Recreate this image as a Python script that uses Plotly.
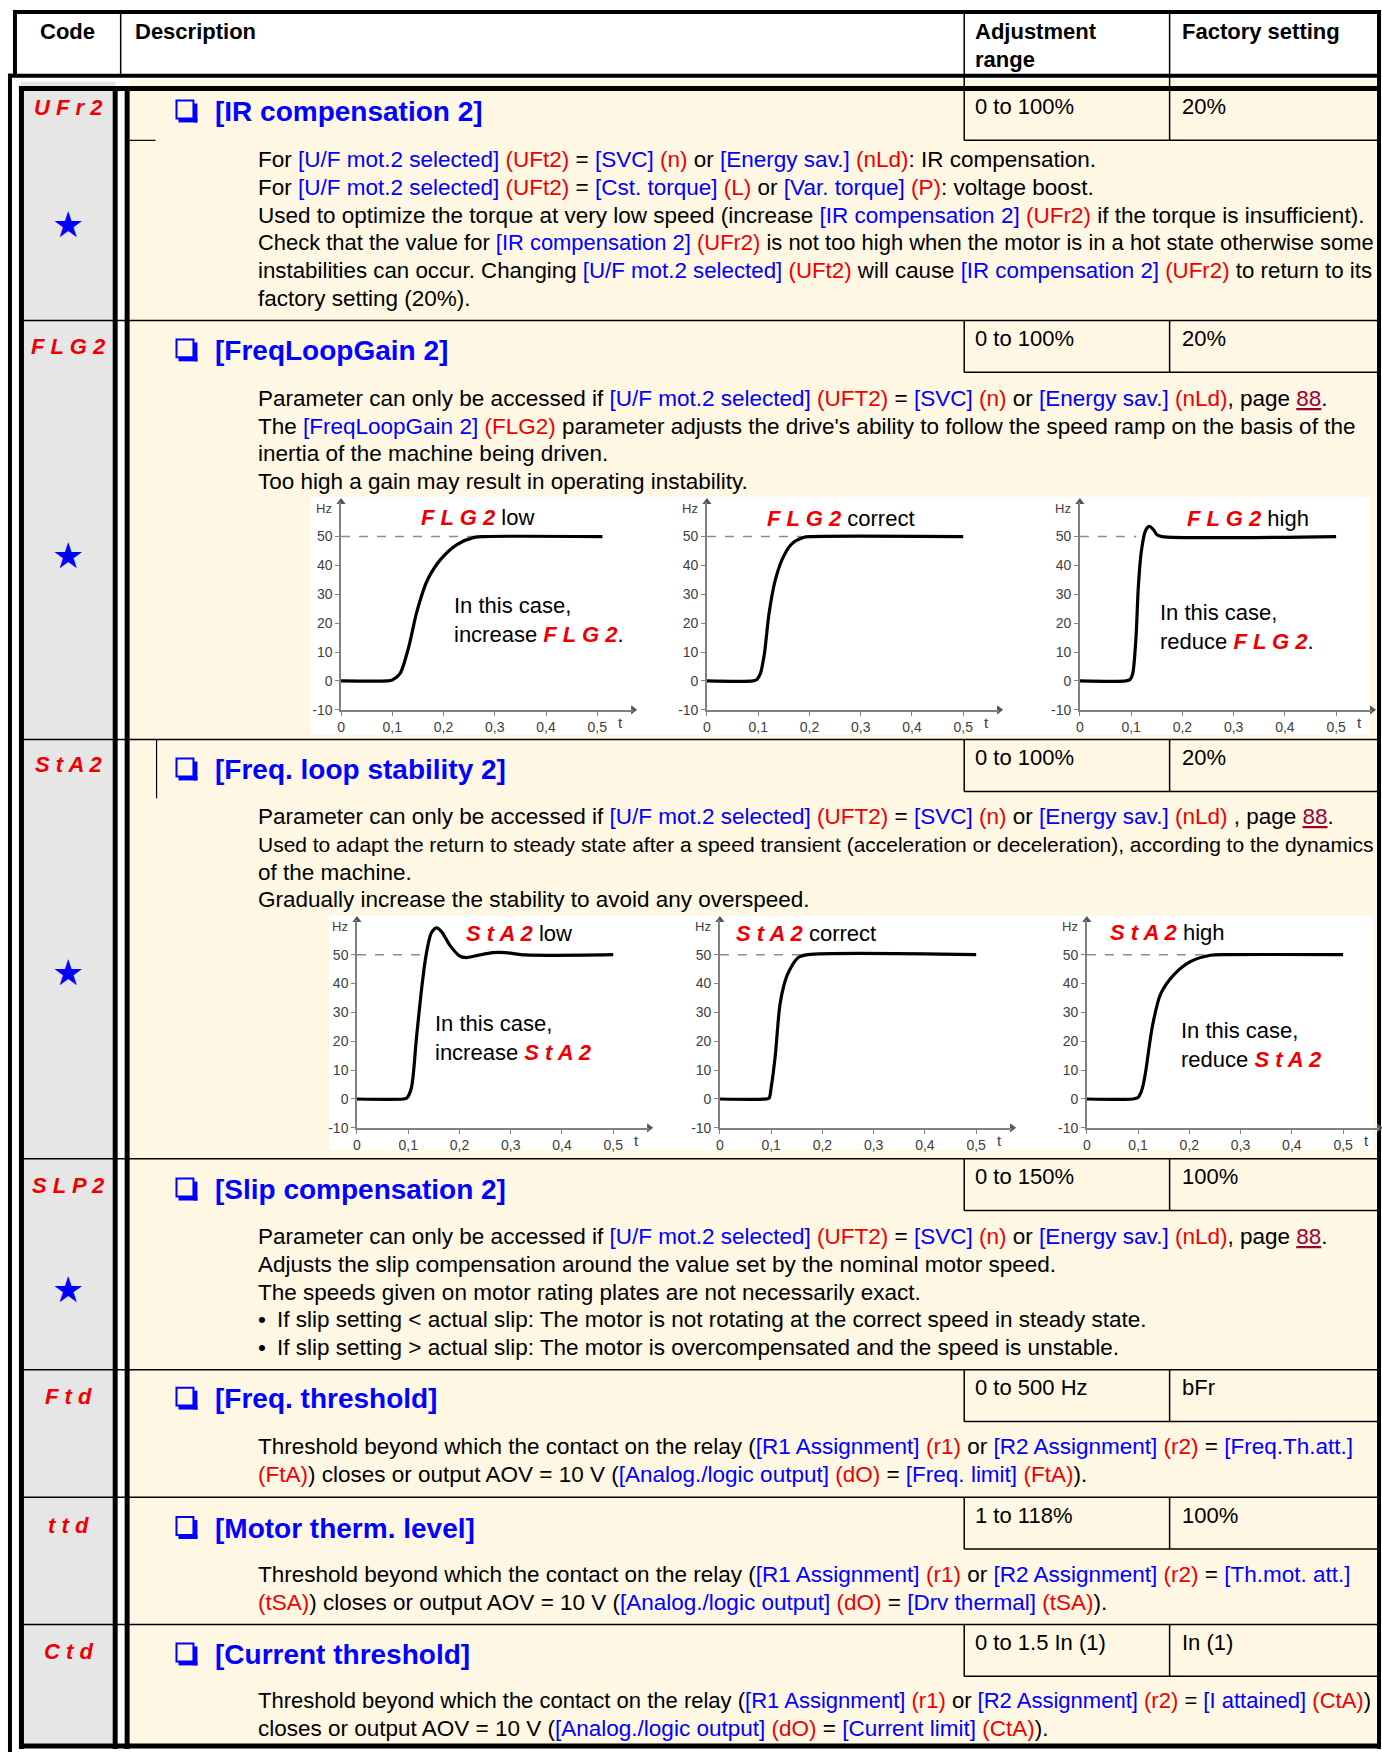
import re
import plotly.graph_objects as go

W, H = 1382, 1760
FONT = "Liberation Sans, Arial, sans-serif"
BLUE = "rgb(0,0,255)"
RED = "rgb(238,0,0)"
LINK = "rgb(153,0,51)"
YELLOW = "#fdf7e3"
GREY = "#e6e6e6"

# ---------------- table content ----------------
codes = ["U F r 2", "F L G 2", "S t A 2", "S L P 2", "F t d", "t t d", "C t d"]
titles = ["[IR compensation 2]", "[FreqLoopGain 2]", "[Freq. loop stability 2]",
          "[Slip compensation 2]", "[Freq. threshold]", "[Motor therm. level]",
          "[Current threshold]"]
adj_range = ["0 to 100%", "0 to 100%", "0 to 100%", "0 to 150%", "0 to 500 Hz",
             "1 to 118%", "0 to 1.5 In (1)"]
factory = ["20%", "20%", "20%", "100%", "bFr", "100%", "In (1)"]
starred = [True, True, True, True, False, False, False]

desc_ufr2 = [
    "For [U/F mot.2 selected] {UFt2} = [SVC] {n} or [Energy sav.] {nLd}: IR compensation.",
    "For [U/F mot.2 selected] {UFt2} = [Cst. torque] {L} or [Var. torque] {P}: voltage boost.",
    "Used to optimize the torque at very low speed (increase [IR compensation 2] {UFr2} if the torque is insufficient).",
    "Check that the value for [IR compensation 2] {UFr2} is not too high when the motor is in a hot state otherwise some",
    "instabilities can occur. Changing [U/F mot.2 selected] {UFt2} will cause [IR compensation 2] {UFr2} to return to its",
    "factory setting (20%).",
]
desc_flg2 = [
    "Parameter can only be accessed if [U/F mot.2 selected] {UFT2} = [SVC] {n} or [Energy sav.] {nLd}, page #88.",
    "The [FreqLoopGain 2] {FLG2} parameter adjusts the drive's ability to follow the speed ramp on the basis of the",
    "inertia of the machine being driven.",
    "Too high a gain may result in operating instability.",
]
desc_sta2 = [
    "Parameter can only be accessed if [U/F mot.2 selected] {UFT2} = [SVC] {n} or [Energy sav.] {nLd} , page #88.",
    "Used to adapt the return to steady state after a speed transient (acceleration or deceleration), according to the dynamics",
    "of the machine.",
    "Gradually increase the stability to avoid any overspeed.",
]
desc_slp2 = [
    "Parameter can only be accessed if [U/F mot.2 selected] {UFT2} = [SVC] {n} or [Energy sav.] {nLd}, page #88.",
    "Adjusts the slip compensation around the value set by the nominal motor speed.",
    "The speeds given on motor rating plates are not necessarily exact.",
    "• If slip setting < actual slip: The motor is not rotating at the correct speed in steady state.",
    "• If slip setting > actual slip: The motor is overcompensated and the speed is unstable.",
]
desc_ftd = [
    "Threshold beyond which the contact on the relay ([R1 Assignment] {r1} or [R2 Assignment] {r2} = [Freq.Th.att.]",
    "{FtA}) closes or output AOV = 10 V ([Analog./logic output] {dO} = [Freq. limit] {FtA}).",
]
desc_ttd = [
    "Threshold beyond which the contact on the relay ([R1 Assignment] {r1} or [R2 Assignment] {r2} = [Th.mot. att.]",
    "{tSA}) closes or output AOV = 10 V ([Analog./logic output] {dO} = [Drv thermal] {tSA}).",
]
desc_ctd = [
    "Threshold beyond which the contact on the relay ([R1 Assignment] {r1} or [R2 Assignment] {r2} = [I attained] {CtA})",
    "closes or output AOV = 10 V ([Analog./logic output] {dO} = [Current limit] {CtA}).",
]
descriptions = [desc_ufr2, desc_flg2, desc_sta2, desc_slp2, desc_ftd, desc_ttd, desc_ctd]

# ---------------- step response curves (t in s, Hz) ----------------
flg2_low_t = [0, 0.09, 0.1, 0.115, 0.132, 0.148, 0.168, 0.194, 0.227, 0.26, 0.28, 0.51]
flg2_low_hz = [0, 0, 0.3, 2.5, 11.7, 24, 34.7, 42, 47.3, 49.7, 50, 50]
flg2_ok_t = [0, 0.09, 0.097, 0.104, 0.112, 0.121, 0.133, 0.147, 0.165, 0.188, 0.205, 0.5]
flg2_ok_hz = [0, 0, 0.4, 2.4, 9.3, 23.2, 34.7, 42.2, 47.4, 49.7, 50, 50]
flg2_high_t = [0, 0.09, 0.098, 0.103, 0.1095, 0.114, 0.12, 0.128, 0.135, 0.143, 0.1505, 0.16, 0.5]
flg2_high_hz = [0, 0, 0.5, 2.4, 15.1, 32.4, 45, 52, 53.5, 52.5, 50.6, 50, 50]
sta2_low_t = [0, 0.09, 0.097, 0.106, 0.116, 0.126, 0.135, 0.145, 0.155, 0.165, 0.181,
              0.2, 0.213, 0.232, 0.265, 0.29, 0.329, 0.5]
sta2_low_hz = [0, 0, 0.3, 3.7, 21, 38, 50, 57.5, 59.3, 58, 53.3, 49.6, 49, 49.6, 50.7, 50.7,
               49.9, 50]
sta2_ok_t = [0, 0.09, 0.096, 0.1, 0.104, 0.108, 0.117, 0.125, 0.134, 0.153, 0.172, 0.5]
sta2_ok_hz = [0, 0, 0.3, 4, 9, 15, 32.5, 39.5, 44, 49, 50, 50]
sta2_high_t = [0, 0.09, 0.1, 0.105, 0.11, 0.115, 0.128, 0.144, 0.17, 0.202, 0.241, 0.274, 0.5]
sta2_high_hz = [0, 0, 0.5, 2, 5, 9.8, 25.3, 36.4, 43.1, 47.6, 49.8, 50, 50]

curves_t = [flg2_low_t, flg2_ok_t, flg2_high_t, sta2_low_t, sta2_ok_t, sta2_high_t]
curves_hz = [flg2_low_hz, flg2_ok_hz, flg2_high_hz, sta2_low_hz, sta2_ok_hz, sta2_high_hz]
ref_end = [0.26, 0.185, 0.11, 0.135, 0.16, 0.23]
chart_code = ["F L G 2", "F L G 2", "F L G 2", "S t A 2", "S t A 2", "S t A 2"]
chart_word = ["low", "correct", "high", "low", "correct", "high"]
note_verb = ["increase", None, "reduce", "increase", None, "reduce"]
note_end = [".", None, ".", "", None, ""]

t_ticks = [0, 0.1, 0.2, 0.3, 0.4, 0.5]
t_labels = ["0", "0,1", "0,2", "0,3", "0,4", "0,5"]
hz_ticks = [-10, 0, 10, 20, 30, 40, 50]
hz_labels = ["-10", "0", "10", "20", "30", "40", "50"]

# Arial / Liberation Sans advance widths (1/1000 em), used to fit long lines
ARIAL = {" ": 278, "(": 333, ")": 333, "[": 278, "]": 278, ".": 278, ",": 278, ":": 278,
         "/": 278, "'": 191, "=": 584, "<": 584, ">": 584, "%": 889, "•": 350,
         "A": 667, "B": 667, "C": 722, "D": 722, "E": 667, "F": 611, "G": 778, "H": 722,
         "I": 278, "J": 500, "K": 667, "L": 556, "M": 833, "N": 722, "O": 778, "P": 667,
         "Q": 778, "R": 722, "S": 667, "T": 611, "U": 722, "V": 667, "W": 944, "X": 667,
         "Y": 667, "Z": 611, "a": 556, "b": 556, "c": 500, "d": 556, "e": 556, "f": 278,
         "g": 556, "h": 556, "i": 222, "j": 222, "k": 500, "l": 222, "m": 833, "n": 556,
         "o": 556, "p": 556, "q": 556, "r": 333, "s": 500, "t": 278, "u": 556, "v": 500,
         "w": 722, "x": 500, "y": 500, "z": 500}

# ---------------- helpers ----------------
fig = go.Figure()


def px_x(x):
    return x / W


def px_y(y):
    return 1 - y / H


def line(x0, y0, x1, y1, w=1.5, color="black"):
    fig.add_shape(type="line", xref="paper", yref="paper",
                  x0=px_x(x0), y0=px_y(y0), x1=px_x(x1), y1=px_y(y1),
                  line=dict(color=color, width=w), layer="below")


def box(x0, y0, x1, y1, fill):
    fig.add_shape(type="rect", xref="paper", yref="paper",
                  x0=px_x(x0), y0=px_y(y0), x1=px_x(x1), y1=px_y(y1),
                  fillcolor=fill, line_width=0, layer="below")


def text(x, y, s, size=22, color="black", anchor="left"):
    fig.add_annotation(xref="paper", yref="paper", x=px_x(x), y=px_y(y), text=s,
                       showarrow=False, xanchor=anchor, yanchor="middle", borderpad=0,
                       font=dict(size=size, color=color, family=FONT), align="left")


def rich(s):
    s = s.replace("<", "&lt;").replace(">", "&gt;")
    s = re.sub(r"#(\d+)", lambda m: f"<span style='color:{LINK}'><u>{m.group(1)}</u></span>", s)
    s = re.sub(r"\[[^\]]*\]", lambda m: f"<span style='color:{BLUE}'>{m.group(0)}</span>", s)
    s = re.sub(r"\{([^}]*)\}", lambda m: f"<span style='color:{RED}'>({m.group(1)})</span>", s)
    return s


def em_width(s):
    plain = s.replace("{", "(").replace("}", ")").replace("#", "")
    return sum(ARIAL.get(c, 556) for c in plain) / 1000.0


def seg(code, size=22):
    return f"<span style='color:{RED};font-size:{size}px'><b><i>{code}</i></b></span>"


# ---------------- table geometry ----------------
row_tops = [89, 322, 743, 1164, 1376, 1504, 1632]
bottom = 1754
title_y = [112, 352, 773, 1195, 1405, 1535, 1662]
code_y = [108, 348, 768, 1191, 1403, 1532, 1659]
star_y = [226, 558, 977, 1295]
body_y0 = [160, 400, 820, 1242, 1453, 1582, 1708]
COL_ADJ, COL_FAC, RIGHT = 963, 1169, 1379
TEXT_X, TEXT_END = 254, 1370

# fills
box(20, 89, 109, bottom, GREY)
box(17, 82, 112, 89, GREY)
box(126, 80, RIGHT, bottom, YELLOW)
box(308, 499, 1370, 738, "white")
box(326, 920, 1373, 1155, "white")

# header
line(11, 12, RIGHT, 12, 4)
line(11, 10, 11, 76, 4)
line(4, 76, RIGHT + 1, 76, 4)
line(117, 12, 117, 76, 1.5)
line(COL_ADJ, 12, COL_ADJ, 89, 1.5)
line(COL_FAC, 12, COL_FAC, 89, 1.5)
text(64, 32, "<b>Code</b>", 22, anchor="center")
text(130, 32, "<b>Description</b>", 22)
text(973, 32, "<b>Adjustment</b>", 22)
text(973, 60, "<b>range</b>", 22)
text(1180, 32, "<b>Factory setting</b>", 22)

# body frame
line(6, 74, 6, 1760, 4)
line(RIGHT, 10, RIGHT, 1757, 4)
line(15, 89, RIGHT, 89, 5)
line(17.5, 87, 17.5, 1757, 5)
line(15, bottom, RIGHT, bottom, 5)
line(111.5, 89, 111.5, 1757, 5)
line(123.5, 89, 123.5, 1757, 5)
line(126, 141, 152, 141, 1.2)
line(153, 743, 153, 802, 1.2)

for i, top in enumerate(row_tops):
    if i > 0:
        line(20, top, RIGHT, top, 1.5)
    cell_bot = top + 52
    line(COL_ADJ, top, COL_ADJ, cell_bot, 1.5)
    line(COL_FAC, top, COL_FAC, cell_bot, 1.5)
    line(COL_ADJ, cell_bot, RIGHT, cell_bot, 1.5)
    text(973, top + 18, adj_range[i], 22)
    text(1180, top + 18, factory[i], 22)

    # code + star
    text(65, code_y[i], seg(codes[i]), 22, anchor="center")
    if starred[i]:
        text(64, star_y[i], "★", 36, color=BLUE, anchor="center")

    # title with shadowed square
    ty = title_y[i]
    fig.add_shape(type="rect", xref="paper", yref="paper",
                  x0=px_x(173), y0=px_y(ty - 11), x1=px_x(190), y1=px_y(ty + 7),
                  line=dict(color=BLUE, width=2), fillcolor="rgba(0,0,0,0)", layer="below")
    box(175, ty + 7, 194, ty + 11, BLUE)
    box(190, ty - 8, 194, ty + 11, BLUE)
    text(211, ty, f"<b>{titles[i]}</b>", 28, color=BLUE)

    # description lines (long lines squeezed to the column width, as in the justified source)
    for k, s in enumerate(descriptions[i]):
        yy = body_y0[i] + 28 * k
        if s.startswith("• "):
            text(TEXT_X, yy, "•", 22.5)
            text(273, yy, rich(s[2:]), 22.5)
        else:
            size = min(22.5, (TEXT_END - TEXT_X) / em_width(s))
            text(TEXT_X, yy, rich(s), round(size, 2))

# ---------------- step response charts ----------------
PPX = 514  # pixels per second of t
charts = [(338, 539, 713), (705, 539, 713), (1079, 539, 713),
          (354, 959, 1133), (718, 959, 1133), (1086, 959, 1133)]
title_pos = [(417, 520), (764, 521), (1185, 521), (462, 938), (733, 938), (1108, 937)]
note_pos = [(450, 608), None, (1158, 615), (431, 1028), None, (1179, 1035)]

for n, (ox, y50, ym10) in enumerate(charts):
    sfx = "" if n == 0 else str(n + 1)
    ppy = (ym10 - y50) / 60
    xdom = [px_x(ox), px_x(ox + 0.57 * PPX)]
    ydom = [px_y(ym10), px_y(ym10 - 72 * ppy)]
    axis_style = dict(showline=True, linecolor="#808080", linewidth=1.5, ticks="outside",
                      ticklen=4, tickcolor="#808080", tickwidth=1, showgrid=False,
                      zeroline=False, tickfont=dict(size=14, color="#404040", family=FONT))
    fig.layout["xaxis" + sfx] = dict(domain=xdom, range=[0, 0.57], anchor="y" + sfx,
                                     tickvals=t_ticks, ticktext=t_labels, **axis_style)
    fig.layout["yaxis" + sfx] = dict(domain=ydom, range=[-10, 62], anchor="x" + sfx,
                                     tickvals=hz_ticks, ticktext=hz_labels, **axis_style)
    xa, ya = "x" + sfx, "y" + sfx
    fig.add_trace(go.Scatter(x=[0, ref_end[n]], y=[50, 50], mode="lines", xaxis=xa, yaxis=ya,
                             line=dict(color="#8c8c8c", width=1.5, dash="dash"),
                             showlegend=False, hoverinfo="skip"))
    fig.add_trace(go.Scatter(x=curves_t[n], y=curves_hz[n], mode="lines", xaxis=xa, yaxis=ya,
                             line=dict(color="black", width=3.2, shape="spline", smoothing=0.8),
                             showlegend=False, cliponaxis=False))
    fig.add_trace(go.Scatter(x=[0, 0.57], y=[62, -10], mode="markers", xaxis=xa, yaxis=ya,
                             marker=dict(symbol=["triangle-up", "triangle-right"], size=8,
                                         color="#555555"),
                             showlegend=False, cliponaxis=False, hoverinfo="skip"))
    text(ox - 8, y50 - 28, "Hz", 13, color="#404040", anchor="right")
    text(ox + 0.546 * PPX, ym10 + 13, "t", 15, color="#404040", anchor="center")

    tx, tyy = title_pos[n]
    text(tx, tyy, f"{seg(chart_code[n])} {chart_word[n]}", 22)
    if note_pos[n] is not None:
        nx, ny = note_pos[n]
        text(nx, ny, "In this case,", 22)
        text(nx, ny + 29, f"{note_verb[n]} {seg(chart_code[n])}{note_end[n]}", 22)

fig.update_layout(width=W, height=H, margin=dict(l=0, r=0, t=0, b=0),
                  paper_bgcolor="white", plot_bgcolor="rgba(0,0,0,0)",
                  font=dict(family=FONT), showlegend=False)

fig.write_html("out.html", config={"displayModeBar": False},
               post_script="document.body.style.margin='0';document.body.style.overflow='hidden';")
